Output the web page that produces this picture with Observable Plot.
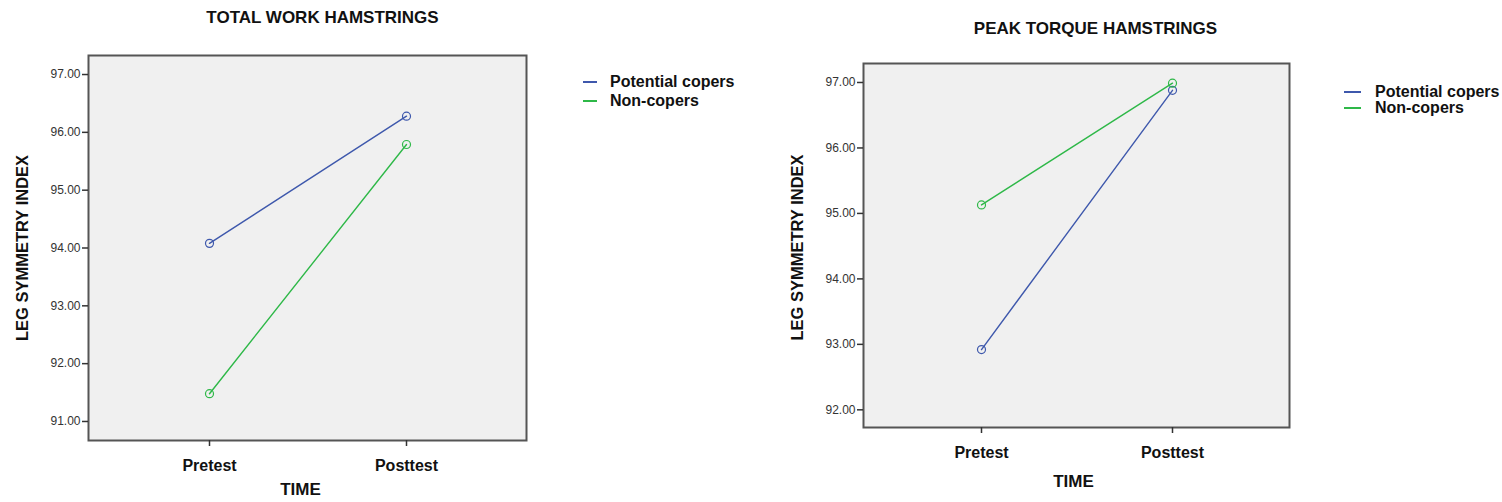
<!DOCTYPE html>
<html><head><meta charset="utf-8">
<script src="https://cdn.jsdelivr.net/npm/d3@7"></script>
<script src="https://cdn.jsdelivr.net/npm/@observablehq/plot@0.6"></script>
<style>
body{margin:0;background:#fff;font-family:"Liberation Sans",Arial,sans-serif;}
#wrap{position:relative;width:1502px;height:502px;overflow:hidden;background:#fff}
.chart{position:absolute;top:0}
.legend-item{position:absolute;white-space:nowrap;font:bold 16px "Liberation Sans",Arial,sans-serif;color:#111;line-height:18px;height:18px}
.sw{position:absolute;height:2px}
</style></head>
<body><div id="wrap"></div>
<script>
const times = ["Pretest", "Posttest"];
const groups = ["Potential copers", "Non-copers"];
const colors = ["#3E58AC", "#2EB848"];
const totalWorkCopers = [94.08, 96.28];
const totalWorkNonCopers = [91.48, 95.79];
const peakTorqueCopers = [92.92, 96.88];
const peakTorqueNonCopers = [95.13, 96.99];
const totalWorkTicks = [91, 92, 93, 94, 95, 96, 97];
const peakTorqueTicks = [92, 93, 94, 95, 96, 97];

function table(a, b) {
  const rows = [];
  [a, b].forEach((vals, gi) => vals.forEach((v, ti) => rows.push({group: groups[gi], time: times[ti], value: v})));
  return rows;
}

function makeChart(o) {
  const data = table(o.a, o.b);
  const font = "Liberation Sans, Arial, sans-serif";
  return Plot.plot({
    width: o.width, height: 502,
    marginLeft: o.ml, marginRight: o.mr, marginTop: o.mt, marginBottom: o.mb,
    style: {fontFamily: font, background: "transparent", overflow: "visible", color: "#111"},
    x: {type: "point", domain: times, padding: 0.61, label: null},
    y: {domain: o.yDomain, label: null},
    color: {domain: groups, range: colors},
    marks: [
      Plot.frame({fill: "#f0f0f0"}),
      Plot.line(data, {x: "time", y: "value", z: "group", stroke: "group", strokeWidth: 1.4}),
      Plot.dot(data, {x: "time", y: "value", stroke: "group", r: 4, strokeWidth: 1.2, fill: "none"}),
      Plot.frame({stroke: "#555", strokeWidth: 2}),
      Plot.axisY({ticks: o.ticks, tickFormat: d => d.toFixed(2), tickSize: 6, tickPadding: 2, fontSize: 12, fill: "#333", stroke: "#333", strokeWidth: 1.5, label: null}),
      Plot.axisX({tickSize: 6, tickPadding: 13, fontSize: 16, fontWeight: "bold", stroke: "#333", strokeWidth: 1.5, label: null}),
      Plot.text([o.title], {frameAnchor: "top", lineAnchor: "middle", textAnchor: "middle", dx: o.tdx, dy: o.tdy, fontSize: 17, fontWeight: "bold"}),
      Plot.text(["LEG SYMMETRY INDEX"], {frameAnchor: "left", textAnchor: "middle", lineAnchor: "middle", rotate: -90, dx: -66, dy: o.ydy, fontSize: 16.5, fontWeight: "bold"}),
      Plot.text(["TIME"], {frameAnchor: "bottom", lineAnchor: "middle", textAnchor: "middle", dx: o.xdx, dy: o.xdy, fontSize: 17, fontWeight: "bold"})
    ]
  });
}

const wrap = document.getElementById("wrap");

function place(svg, left) {
  svg.classList.add("chart");
  svg.style.left = left + "px";
  wrap.appendChild(svg);
}

place(makeChart({
  a: totalWorkCopers, b: totalWorkNonCopers, ticks: totalWorkTicks,
  yDomain: [90.671, 97.329], width: 560, ml: 88, mr: 34, mt: 55, mb: 62,
  title: "TOTAL WORK HAMSTRINGS", tdx: 15, tdy: -38, ydy: 0, xdx: -7, xdy: 49
}), 0);

place(makeChart({
  a: peakTorqueCopers, b: peakTorqueNonCopers, ticks: peakTorqueTicks,
  yDomain: [91.73, 97.29], width: 560, ml: 103, mr: 31, mt: 63, mb: 75,
  title: "PEAK TORQUE HAMSTRINGS", tdx: 19, tdy: -35, ydy: 2, xdx: -3, xdy: 54
}), 760);

function legend(x0, ys, textX) {
  groups.forEach((g, i) => {
    const sw = document.createElement("div");
    sw.className = "sw";
    sw.style.left = x0[0] + "px";
    sw.style.width = (x0[1] - x0[0]) + "px";
    sw.style.top = (ys[i] - 1) + "px";
    sw.style.background = colors[i];
    wrap.appendChild(sw);
    const t = document.createElement("div");
    t.className = "legend-item";
    t.textContent = g;
    t.style.left = textX + "px";
    t.style.top = (ys[i] - 9) + "px";
    wrap.appendChild(t);
  });
}
legend([583, 597], [82, 101], 610);
legend([1344, 1361], [92, 108], 1375);
</script>
</body></html>
